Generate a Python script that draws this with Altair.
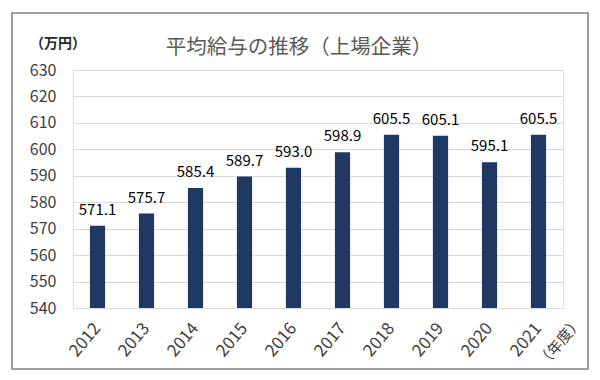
import altair as alt
import pandas as pd

years = ["2012", "2013", "2014", "2015", "2016", "2017", "2018", "2019", "2020", "2021"]
values = [571.1, 575.7, 585.4, 589.7, 593.0, 598.9, 605.5, 605.1, 595.1, 605.5]
y_ticks = [540, 550, 560, 570, 580, 590, 600, 610, 620, 630]
title_text = "平均給与の推移（上場企業）"
unit_text = "（万円）"
xunit_text = "（年度）"

df = pd.DataFrame({"year": years, "value": values,
                   "label": [f"{v:.1f}" for v in values]})

FONT = "Noto Sans CJK JP"
W, H = 490, 238

xenc = alt.X("year:N", sort=years,
             scale=alt.Scale(paddingInner=0.69, paddingOuter=0.345),
             axis=alt.Axis(title=None, labelAngle=-50, labelAlign="right",
                           labelBaseline="middle", labelFontSize=17,
                           labelColor="#404040", labelFont=FONT, ticks=False,
                           domain=False, labelPadding=17))
yscale = alt.Scale(domain=[540, 630], nice=False, zero=False)

base = alt.Chart(df)

bars = base.mark_bar(color="#1F3864", clip=True).encode(
    x=xenc,
    y=alt.Y("value:Q", scale=yscale,
            axis=alt.Axis(title=None, values=y_ticks, tickCount=10,
                          labelOverlap=False, labelFontSize=16,
                          labelColor="#404040", labelFont=FONT, ticks=False,
                          domain=False, labelPadding=17, gridColor="#d9d9d9")),
    y2=alt.datum(540),
)

texts = base.mark_text(dy=-16, fontSize=15, font=FONT, color="#000000").encode(
    x=alt.X("year:N", sort=years), y=alt.Y("value:Q", scale=yscale), text="label:N"
)

frame = alt.Chart(pd.DataFrame({"a": [0]})).mark_rect(
    fill=None, stroke="#7f7f7f", strokeWidth=1.5, clip=False
).encode(x=alt.value(-61), x2=alt.value(515), y=alt.value(-57), y2=alt.value(299))

title = alt.Chart(pd.DataFrame({"t": [title_text]})).mark_text(
    fontSize=20.5, font=FONT, color="#595959", align="center", baseline="middle"
).encode(x=alt.value(226), y=alt.value(-22), text="t:N")

unit = alt.Chart(pd.DataFrame({"t": [unit_text]})).mark_text(
    fontSize=14, font=FONT, color="#262626", fontWeight="bold", align="center",
    baseline="middle"
).encode(x=alt.value(-15), y=alt.value(-26), text="t:N")

xunit = alt.Chart(pd.DataFrame({"t": [xunit_text]})).mark_text(
    fontSize=15, font=FONT, color="#404040", align="center", baseline="middle",
    angle=310
).encode(x=alt.value(487), y=alt.value(272), text="t:N")

chart = alt.layer(frame, bars, texts, title, unit, xunit).properties(
    width=W, height=H,
    autosize=alt.AutoSizeParams(type="none"),
    padding={"left": 65, "top": 62, "right": 29, "bottom": 64},
).configure_view(stroke="#7f7f7f", strokeWidth=1.2).configure(background="white")

chart.save("out.html", embed_options={"renderer": "svg", "actions": False})
